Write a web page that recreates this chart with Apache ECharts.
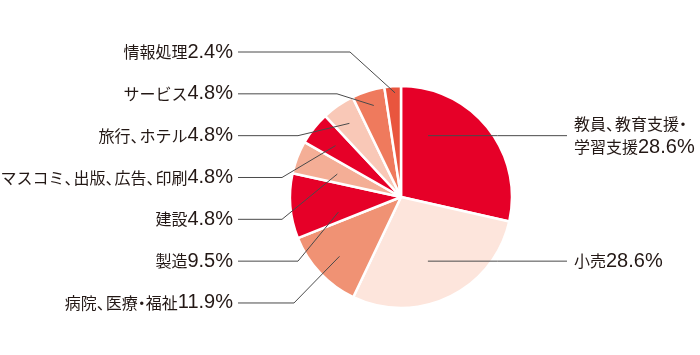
<!DOCTYPE html>
<html><head><meta charset="utf-8">
<script src="https://cdn.jsdelivr.net/npm/echarts@6/dist/echarts.min.js"></script>
<style>html,body{margin:0;padding:0;background:#fff}#c{width:700px;height:355px}</style>
</head><body><div id="c"></div>
<script>
// ---- data ----
const categories = ['教員、教育支援・\n学習支援', '小売', '病院、医療・福祉', '製造', '建設', 'マスコミ、出版、広告、印刷', '旅行、ホテル', 'サービス', '情報処理'];
const values = [28.6, 28.6, 11.9, 9.5, 4.8, 4.8, 4.8, 4.8, 2.4];
const colors = ['#e60028', '#fde5dc', '#f09274', '#e60028', '#f4ae96', '#e60028', '#f9c8b7', '#ef7a5d', '#e9553e'];

// ---- layout (styling only) ----
const CX = 401, CY = 197, R = 111;
const ROW0 = 52, ROWGAP = 41.83;
const LTX = 233, LLX = 238, RTX = 574, RLX = 567;
const side = ['r', 'r', 'l', 'l', 'l', 'l', 'l', 'l', 'l'];
const row = [2, 5, 6, 5, 4, 3, 2, 1, 0];
const anchorFrac = [[0.233, 0.6], [0.528, 0.62], [0.48, 0.77], [0.24, 0.58], [0.43, 0.61], [0.49, 0.75], [0.47, 0.81], [0.54, 0.86], [0.62, 0.94]];
const bendX = [null, null, 294, 298, 282, 282, 298, 337, 350];

const total = values.reduce((a, b) => a + b, 0);
const startAng = [];
let acc = 0;
values.forEach(v => { startAng.push(acc / total * 360); acc += v; });
function anchorPoint(i) {
  const span = values[i] / total * 360;
  const th = (startAng[i] + anchorFrac[i][0] * span) * Math.PI / 180;
  const r = anchorFrac[i][1] * R;
  return [CX + r * Math.sin(th), CY - r * Math.cos(th)];
}
function richName(name) {
  return name.replace(/、/g, '{p|、}').replace(/・/g, '{d|・}');
}
const TXT = '#231815';
const common = {
  type: 'pie', center: [CX, CY], radius: [0, R], startAngle: 90, clockwise: true,
  avoidLabelOverlap: false, silent: true
};

const chart = echarts.init(document.getElementById('c'));
chart.setOption({
  animation: false,
  series: [Object.assign({}, common, {
    z: 2,
    itemStyle: { borderColor: '#fff', borderWidth: 2.5 },
    data: categories.map((c, i) => ({ name: c, value: values[i], itemStyle: { color: colors[i] } })),
    label: { show: false },
    labelLine: { show: false }
  }), Object.assign({}, common, {
    z: 5,
    itemStyle: { color: 'rgba(0,0,0,0)', borderWidth: 0 },
    data: categories.map((c, i) => ({ name: c, value: values[i] })),
    label: {
      show: true,
      position: 'outside',
      fontFamily: 'Noto Sans CJK JP',
      fontSize: 16,
      color: TXT,
      lineHeight: 23,
      formatter: p => richName(p.name) + '{n|' + values[p.dataIndex].toFixed(1) + '%}',
      rich: {
        n: { fontFamily: 'Liberation Sans', fontSize: 20, color: TXT, lineHeight: 23 },
        p: { fontFamily: 'Noto Sans CJK JP', fontSize: 16, color: TXT, padding: [0, -7, 0, 0], lineHeight: 23 },
        d: { fontFamily: 'Noto Sans CJK JP', fontSize: 16, color: TXT, padding: [0, -4, 0, -4], lineHeight: 23 }
      }
    },
    labelLine: { show: true, length: 10, length2: 10, lineStyle: { color: '#4a4a4a', width: 1 } },
    labelLayout: function (p) {
      const i = p.dataIndex;
      const y = ROW0 + row[i] * ROWGAP;
      const a = anchorPoint(i);
      if (side[i] === 'r') {
        return { x: RTX, y: y, align: 'left', verticalAlign: 'middle',
          labelLinePoints: [[a[0], y], [(a[0] + RLX) / 2, y], [RLX, y]] };
      }
      return { x: LTX, y: y, align: 'right', verticalAlign: 'middle',
        labelLinePoints: [a, [bendX[i], y], [LLX, y]] };
    }
  })]
});
</script></body></html>
